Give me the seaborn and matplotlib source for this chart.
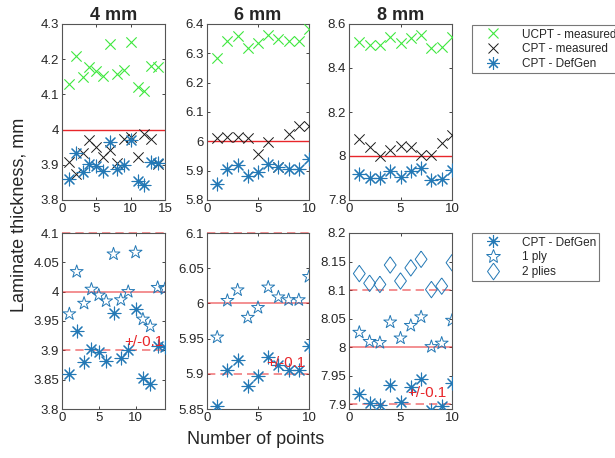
import numpy as np
import pandas as pd
import matplotlib
matplotlib.use("Agg")
import matplotlib.pyplot as plt
import seaborn as sns
from matplotlib.lines import Line2D

sns.set_theme(style="white")
plt.rcParams['font.family'] = ['Arial', 'Liberation Sans', 'DejaVu Sans']

# ---- data ----
titles = ["4 mm", "6 mm", "8 mm"]
nominal = [4.0, 6.0, 8.0]

ucpt_4 = [4.13, 4.209, 4.149, 4.178, 4.167, 4.152, 4.243, 4.158, 4.169, 4.248, 4.122, 4.111, 4.181, 4.179]
cpt_4 = [3.909, 3.874, 3.933, 3.970, 3.951, 3.923, 3.942, 3.904, 3.972, 3.980, 3.923, 3.987, 3.972, 3.902]
defgen_4 = [3.860, 3.933, 3.880, 3.903, 3.897, 3.882, 3.964, 3.887, 3.900, 3.971, 3.853, 3.843, 3.908, 3.906]
ply1_4 = [3.962, 4.034, 3.980, 4.004, 3.994, 3.984, 4.064, 3.986, 4.000, 4.067, 3.953, 3.941, 4.007, 4.005]

ucpt_6 = [6.285, 6.342, 6.359, 6.317, 6.334, 6.362, 6.349, 6.342, 6.342, 6.382]
cpt_6 = [6.012, 6.016, 6.016, 6.012, 5.957, 5.999, 5.914, 6.024, 6.053, 6.053]
defgen_6 = [5.854, 5.905, 5.920, 5.882, 5.897, 5.924, 5.912, 5.906, 5.906, 5.940]
ply1_6 = [5.952, 6.004, 6.019, 5.980, 5.994, 6.023, 6.009, 6.005, 6.005, 6.038]

ucpt_8 = [8.520, 8.505, 8.505, 8.539, 8.512, 8.535, 8.550, 8.489, 8.497, 8.542]
cpt_8 = [8.077, 8.042, 8.000, 8.027, 8.047, 8.042, 8.005, 8.005, 8.061, 8.095]
defgen_8 = [7.918, 7.902, 7.899, 7.934, 7.905, 7.930, 7.945, 7.891, 7.897, 7.938]
ply1_8 = [8.026, 8.010, 8.008, 8.044, 8.016, 8.038, 8.053, 8.001, 8.007, 8.047]
plies2_8 = [8.129, 8.112, 8.110, 8.144, 8.116, 8.139, 8.154, 8.101, 8.107, 8.148]

# ---- styles ----
GREEN = '#3ee83e'
BLACK = '#1a1a1a'
BLUE = '#2378b5'
RED = '#e8262a'
ASTER = (8, 2, 0)
STAR = '*'
DIAM = [(0, 1), (0.72, 0), (0, -1), (-0.72, 0), (0, 1)]

fig = plt.figure(figsize=(6.15, 4.58), dpi=100)

W = 615.0
H = 458.0
cols = [(62, 165), (207, 309), (349, 452)]
top_y = (24, 200)
bot_y = (233, 409)

def mk_ax(c, ry):
    x0, x1 = c
    y0, y1 = ry
    return fig.add_axes([x0 / W, 1 - y1 / H, (x1 - x0) / W, (y1 - y0) / H])

def sc(ax, y, marker, color, size, lw):
    df = pd.DataFrame({"x": np.arange(1, len(y) + 1), "y": y})
    kw = dict(data=df, x="x", y="y", ax=ax, marker=marker, s=size, legend=False, zorder=3)
    if marker in ('x', ASTER):
        sns.scatterplot(color=color, linewidth=lw, **kw)
    else:
        sns.scatterplot(facecolor='none', edgecolor=color, linewidth=lw, **kw)

top_data = [(ucpt_4, cpt_4, defgen_4), (ucpt_6, cpt_6, defgen_6), (ucpt_8, cpt_8, defgen_8)]
top_ylim = [(3.8, 4.3), (5.8, 6.4), (7.8, 8.6)]
top_yticks = [[3.8, 3.9, 4.0, 4.1, 4.2, 4.3], [5.8, 5.9, 6.0, 6.1, 6.2, 6.3, 6.4],
              [7.8, 8.0, 8.2, 8.4, 8.6]]
top_xlim = [(0, 15), (0, 10), (0, 10)]
top_xticks = [[0, 5, 10, 15], [0, 5, 10], [0, 5, 10]]

bot_ylim = [(3.8, 4.1), (5.85, 6.1), (7.892, 8.2)]
bot_yticks = [[3.8, 3.85, 3.9, 3.95, 4.0, 4.05, 4.1], [5.85, 5.9, 5.95, 6.0, 6.05, 6.1],
              [7.9, 7.95, 8.0, 8.05, 8.1, 8.15, 8.2]]
bot_xlim = [(0, 14), (0, 10), (0, 10)]
text_pos = [(8.4, 3.915), (5.8, 5.915), (5.7, 7.92)]
bot_data = [(defgen_4, ply1_4, None), (defgen_6, ply1_6, None), (defgen_8, ply1_8, plies2_8)]

def fmt(v):
    s = ('%.2f' % v).rstrip('0').rstrip('.')
    return s

def style(ax, xlim, xticks, ylim, yticks):
    ax.set_xlim(*xlim)
    ax.set_ylim(*ylim)
    ax.set_xticks(xticks)
    ax.set_xticklabels([str(t) for t in xticks])
    ax.set_yticks(yticks)
    ax.set_yticklabels([fmt(t) for t in yticks])
    ax.tick_params(axis='both', labelsize=9.5, colors='#262626', length=2.5, width=0.6,
                   direction='in', pad=2, top=True, right=True, bottom=True, left=True)
    for sp in ax.spines.values():
        sp.set_color('#555555')
        sp.set_linewidth(0.8)
    ax.set_xlabel('')
    ax.set_ylabel('')

for i in range(3):
    ax = mk_ax(cols[i], top_y)
    ax.axhline(nominal[i], color=RED, lw=1.0, zorder=2)
    u, c, d = top_data[i]
    sc(ax, u, 'x', GREEN, 55, 0.8)
    sc(ax, c, 'x', BLACK, 55, 0.7)
    sc(ax, d, ASTER, BLUE, 85, 0.8)
    style(ax, top_xlim[i], top_xticks[i], top_ylim[i], top_yticks[i])
    ax.set_title(titles[i], fontsize=13, fontweight='bold', pad=3)

    ax2 = mk_ax(cols[i], bot_y)
    ax2.axhline(nominal[i], color=RED, lw=1.2, alpha=0.6, zorder=2)
    ax2.axhline(nominal[i] + 0.1, color=RED, lw=1.2, alpha=0.6, ls=(0, (5, 3)), zorder=2, clip_on=False)
    ax2.axhline(nominal[i] - 0.1, color=RED, lw=1.2, alpha=0.6, ls=(0, (5, 3)), zorder=2)
    d, p1, p2 = bot_data[i]
    sc(ax2, d, ASTER, BLUE, 85, 0.8)
    sc(ax2, p1, STAR, BLUE, 95, 0.7)
    if p2 is not None:
        sc(ax2, p2, DIAM, BLUE, 140, 0.7)
    style(ax2, bot_xlim[i], [0, 5, 10], bot_ylim[i], bot_yticks[i])
    ax2.text(text_pos[i][0], text_pos[i][1], '+/-0.1', color=RED, fontsize=11, va='center', ha='left', zorder=4)

fig.text(19 / W, 1 - 215 / H, 'Laminate thickness, mm', rotation=90, fontsize=13,
         ha='center', va='center', color='#262626')
fig.text(256 / W, 1 - 440 / H, 'Number of points', fontsize=13, ha='center', va='center', color='#262626')

h1 = [Line2D([], [], ls='', marker='x', color=GREEN, markersize=7, markeredgewidth=0.8),
      Line2D([], [], ls='', marker='x', color=BLACK, markersize=7, markeredgewidth=0.7),
      Line2D([], [], ls='', marker=ASTER, color=BLUE, markersize=9, markeredgewidth=0.8)]
l1 = fig.legend(h1, ['UCPT - measured', 'CPT - measured', 'CPT - DefGen'], loc='upper left',
                bbox_to_anchor=(472 / W, 1 - 25 / H), fontsize=8.5, frameon=True, fancybox=False,
                edgecolor='#555555', handletextpad=1.0, borderpad=0.3, labelspacing=0.22,
                handlelength=2.9, borderaxespad=0)
l1.get_frame().set_linewidth(0.8)

h2 = [Line2D([], [], ls='', marker=ASTER, color=BLUE, markersize=9, markeredgewidth=0.8),
      Line2D([], [], ls='', marker=STAR, markerfacecolor='none', markeredgecolor=BLUE, markersize=10, markeredgewidth=0.7),
      Line2D([], [], ls='', marker=DIAM, markerfacecolor='none', markeredgecolor=BLUE, markersize=12, markeredgewidth=0.7)]
l2 = fig.legend(h2, ['CPT - DefGen', '1 ply', '2 plies'], loc='upper left',
                bbox_to_anchor=(472 / W, 1 - 233 / H), fontsize=8.5, frameon=True, fancybox=False,
                edgecolor='#555555', handletextpad=1.0, borderpad=0.3, labelspacing=0.22,
                handlelength=2.9, borderaxespad=0)
l2.get_frame().set_linewidth(0.8)

fig.savefig('out.png', dpi=100)
